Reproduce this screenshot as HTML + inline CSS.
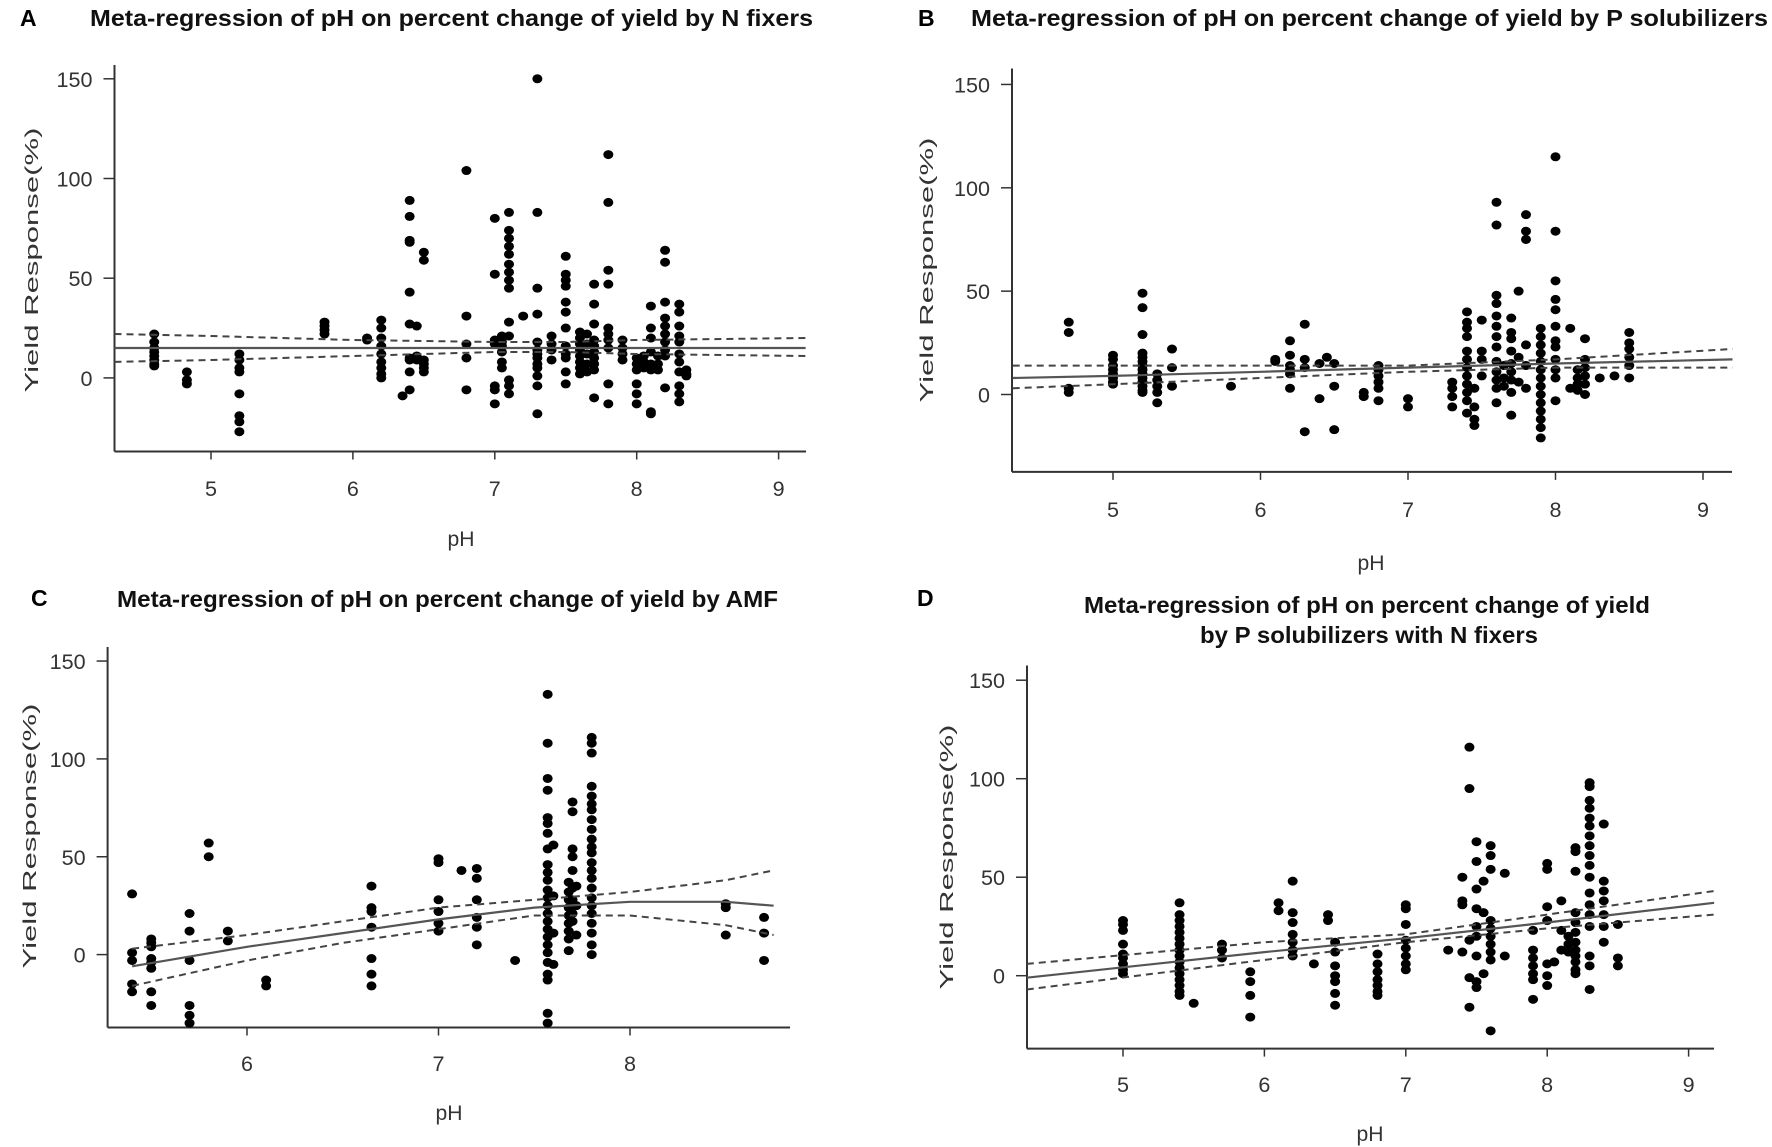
<!DOCTYPE html>
<html><head><meta charset="utf-8">
<style>
html,body{margin:0;padding:0;background:#fff;overflow:hidden;}
svg{display:block;}
text{font-family:"Liberation Sans",Arial,sans-serif;}
</style></head>
<body>
<svg id="fig" width="1772" height="1147" viewBox="0 0 1772 1147" xmlns="http://www.w3.org/2000/svg"></svg>
<script>
// ---------- DATA ----------
// Panel A: N fixers
const aPH = [4.6,4.83,5.2,5.8,6.1,6.2,6.35,6.4,6.45,6.5,6.8,7.0,7.05,7.1,7.2,7.3,7.4,7.5,7.6,7.65,7.7,7.8,7.9,8.0,8.05,8.1,8.15,8.2,8.3,8.35];
const aYield = [[22,18,15,13,11,9,7,6],[3,-1,-3],[12,9,5,3,-8,-19,-22,-27],[28,26,24,22],[20,19],[29,25,20,16,12,8,5,2,0],[-9],[89,81,69,68,43,27,10,9,3,-6],[26,11,9],[63,59,9,7,5,3],[104,31,17,10,-6],[80,52,19,17,-4,-6,-13],[21,18,16,13,8,5],[83,74,70,66,62,57,53,49,45,28,21,-1,-4,-8],[31],[150,83,45,32,18,14,12,10,7,5,1,-4,-18],[21,17,14,9],[61,52,49,46,38,33,25,16,12,10,3,-3],[23,20,17,14,11,8,5,2],[22,17,12,7,3],[47,37,27,19,16,13,10,7,4,-10],[112,88,54,47,25,22,19,15,-3,-13],[19,15,12,9],[10,7,4,-3,-8,-13],[11,8,5],[36,25,20,13,7,4,-17,-18],[11,7,4],[64,58,38,30,26,22,18,14,11,-5],[37,33,26,21,18,12,8,3,-4,-8,-12],[4,2,1]];
const aFitPH = [4.32,5,6,7,7.5,8,9.19];
const aFit = [15,15,15,15,15,15,15];
const aUpper = [22,21,19,18,18,19,20];
const aLower = [8,9,11,13,13,12,11];

// Panel B: P solubilizers
const bPH = [4.7,5.0,5.2,5.3,5.4,5.8,6.1,6.2,6.3,6.4,6.45,6.5,6.7,6.8,7.0,7.3,7.4,7.45,7.5,7.6,7.65,7.7,7.75,7.8,7.9,8.0,8.1,8.15,8.2,8.3,8.4,8.5];
const bYield = [[35,30,3,1],[19,17,14,12,10,8,6,5],[49,42,29,20,18,16,14,12,10,8,6,4,2,1],[10,7,4,1,-4],[22,13,4],[4],[17,16],[26,19,14,12,10,3],[34,17,13,-18],[15,-2],[18],[15,4,-17],[1,-1],[14,12,9,6,3,-3],[-2,-6],[6,3,-1,-6],[40,35,32,28,21,17,13,9,5,1,-3,-9],[3,-6,-12,-15],[36,21,17,9],[93,82,48,44,38,33,28,23,16,11,7,3,-4],[14,8,4],[37,30,27,21,15,11,7,1,-10],[50,18,6],[87,79,75,24,14,3],[32,28,24,20,16,12,8,4,0,-4,-8,-12,-16,-21],[115,79,55,46,41,33,26,23,17,12,8,-3],[32,3],[12,8,5,2],[27,17,13,9,5,0],[8],[9],[30,25,22,18,14,8]];
const bFitPH = [4.32,5,6,7,8,9.2];
const bFit = [8,9,11,13,15,17];
const bUpper = [14,14,14,14,17,22];
const bLower = [3,5,8,11,13,13];

// Panel C: AMF
const cPH = [5.4,5.5,5.7,5.8,5.9,6.1,6.65,7.0,7.12,7.2,7.4,7.57,7.6,7.68,7.7,7.72,7.8,8.5,8.7];
const cYield = [[31,1,-3,-15,-19],[8,6,4,-2,-4,-7,-19,-26],[21,12,-3,-26,-31,-35],[57,50],[12,7],[-13,-16],[35,24,22,14,-2,-10,-16],[49,47,28,22,16,12],[43],[44,39,28,19,14,5],[-3],[133,108,90,84,70,67,62,54,46,42,38,33,29,25,21,17,13,9,5,1,-4,-10,-13,-30,-35],[56,30,11,-5],[37,32,28,24,20,16,12,8,2],[78,73,54,50,43,34,28,21,17],[35,25,10],[111,108,103,86,81,77,74,69,64,59,55,52,47,43,39,34,29,25,21,16,11,5,0],[26,24,10],[19,11,-3]];
const cFitPH = [5.4,6,6.5,7,7.5,8,8.5,8.75];
const cFit = [-6,4,11,18,24,27,27,25];
const cUpper = [3,10,17,24,28,32,38,43];
const cLower = [-16,-3,6,13,20,20,15,10];

// Panel D: P solubilizers with N fixers
const dPH = [5.0,5.4,5.5,5.7,5.9,6.1,6.2,6.35,6.45,6.5,6.8,7.0,7.3,7.4,7.45,7.5,7.55,7.6,7.7,7.9,8.0,8.05,8.1,8.15,8.2,8.3,8.4,8.5];
const dYield = [[28,26,23,16,11,9,6,3,1],[37,31,28,25,22,19,16,13,10,7,4,1,-2,-5,-8,-10],[-14],[16,13,9],[2,-3,-10,-21],[37,33],[48,32,27,21,17,13,10],[6],[31,28],[17,12,5,0,-3,-9,-15],[11,6,2,-2,-5,-8,-10],[36,34,26,18,14,10,6,3],[13],[50,38,36,12],[116,95,18,-1,-16],[68,58,44,34,25,20,10,-3,-6],[48,32,1],[66,61,54,28,24,20,16,12,8,-28],[52,10],[23,13,9,5,1,-2,-12],[57,54,35,28,6,0,-5],[7],[38,23,13],[20,16,12],[65,63,53,32,27,22,17,13,10,7,3,1],[98,96,89,85,80,76,71,66,61,56,50,42,36,31,25,10,5,-7],[77,48,43,38,31,25,17],[26,9,5]];
const dFitPH = [4.32,6,7,8,9.18];
const dFit = [-1,12,19,27,37];
const dUpper = [6,17,21,31,43];
const dLower = [-7,8,17,24,31];

const yTicks = [0,50,100,150];
const xTicksABD = [5,6,7,8,9];
const xTicksC = [6,7,8];

// ---------- LAYOUT ----------
const NS = "http://www.w3.org/2000/svg";
const svg = document.getElementById('fig');
function mk(tag, attrs, parent){
  const e = document.createElementNS(NS, tag);
  for (const k in attrs) e.setAttribute(k, attrs[k]);
  (parent||svg).appendChild(e);
  return e;
}
function txt(str, attrs, parent){
  const t = mk('text', attrs, parent);
  t.textContent = str;
  return t;
}

const panels = [
  {id:'a', letter:'A', ph:aPH, ys:aYield, fx:aFitPH, fit:aFit, up:aUpper, lo:aLower, xt:xTicksABD,
   ax:114.5, axR:806, ayTop:65, ayBot:451.5, x0v:5, x0p:211, xu:141.9, y0p:377.9, yu:1.994,
   xlabY:496, phY:546, phX:461, ytX:31, ytY:260,
   letterX:20, letterY:25, titles:[{s:'Meta-regression of pH on percent change of yield  by N fixers', x:90, y:25, w:723}]},
  {id:'b', letter:'B', ph:bPH, ys:bYield, fx:bFitPH, fit:bFit, up:bUpper, lo:bLower, xt:xTicksABD,
   ax:1012, axR:1732, ayTop:68.5, ayBot:471.9, x0v:5, x0p:1113, xu:147.5, y0p:394.5, yu:2.067,
   xlabY:517, phY:570, phX:1371, ytX:926, ytY:270,
   letterX:918, letterY:25, titles:[{s:'Meta-regression of pH on percent change of yield by P solubilizers', x:971, y:25, w:797}]},
  {id:'c', letter:'C', ph:cPH, ys:cYield, fx:cFitPH, fit:cFit, up:cUpper, lo:cLower, xt:xTicksC,
   ax:107.6, axR:790, ayTop:647, ayBot:1027.5, x0v:6, x0p:247, xu:191.5, y0p:954.6, yu:1.957,
   xlabY:1071, phY:1120, phX:449, ytX:29, ytY:836,
   letterX:31, letterY:605, titles:[{s:'Meta-regression of pH on percent change of yield by AMF', x:117, y:606, w:661}]},
  {id:'d', letter:'D', ph:dPH, ys:dYield, fx:dFitPH, fit:dFit, up:dUpper, lo:dLower, xt:xTicksABD,
   ax:1027, axR:1714, ayTop:665.5, ayBot:1048.6, x0v:5, x0p:1123, xu:141.4, y0p:975.7, yu:1.970,
   xlabY:1092, phY:1141, phX:1370, ytX:946, ytY:857,
   letterX:917, letterY:605, titles:[{s:'Meta-regression of pH on percent change of yield', x:1084, y:612, w:566},{s:'by P solubilizers with N fixers', x:1200, y:642, w:338}]}
];

panels.forEach(p => {
  const g = mk('g', {});
  
  
  const X = v => p.x0p + (v - p.x0v) * p.xu;
  const Y = v => p.y0p - v * p.yu;

  const L = txt(p.letter, {x:p.letterX, y:p.letterY+1, 'font-size':23, 'font-weight':'bold', fill:'#000'}, g);
  
  
  p.titles.forEach((t, i) => {
    const T = txt(t.s, {x:t.x, y:t.y+1, 'font-size':23, 'font-weight':'bold', fill:'#111', textLength:t.w, lengthAdjust:'spacingAndGlyphs'}, g);
    
    
  });

  const ya = mk('line', {x1:p.ax, y1:p.ayTop, x2:p.ax, y2:p.ayBot, stroke:'#333', 'stroke-width':2}, g);
  
  
  const xa = mk('line', {x1:p.ax, y1:p.ayBot, x2:p.axR, y2:p.ayBot, stroke:'#333', 'stroke-width':2}, g);
  
  

  yTicks.forEach(v => {
    const y = Y(v);
    const tk = mk('line', {x1:p.ax-11, y1:y, x2:p.ax, y2:y, stroke:'#333', 'stroke-width':1.5}, g);
    
    
    const s = String(v);
    const lb = txt(s, {x:p.ax-22, y:y+8, 'font-size':21, fill:'#333', 'text-anchor':'end', textLength:s.length*12, lengthAdjust:'spacingAndGlyphs'}, g);
    
    
  });
  p.xt.forEach(v => {
    const x = X(v);
    const tk = mk('line', {x1:x, y1:p.ayBot, x2:x, y2:p.ayBot+8, stroke:'#333', 'stroke-width':1.5}, g);
    
    
    const lb = txt(String(v), {x:x, y:p.xlabY, 'font-size':21, fill:'#333', 'text-anchor':'middle', textLength:12, lengthAdjust:'spacingAndGlyphs'}, g);
    
    
  });
  const xt = txt('pH', {x:p.phX, y:p.phY, 'font-size':21, fill:'#333', 'text-anchor':'middle', textLength:27, lengthAdjust:'spacingAndGlyphs'}, g);
  
  
  const yt = txt('Yield Response(%)', {x:0, y:0, 'font-size':18, fill:'#333', 'text-anchor':'middle', textLength:265, lengthAdjust:'spacingAndGlyphs', transform:'translate(' + (p.ytX+7) + ',' + p.ytY + ') rotate(-90)'}, g);
  
  

  p.ph.forEach((xv, i) => {
    p.ys[i].forEach(yv => {
      const c = mk('ellipse', {cx:X(xv), cy:Y(yv), rx:5, ry:4.5, fill:'#000'}, g);
      
      
    });
  });

  const path = arr => p.fx.map((xv, i) => (i ? 'L' : 'M') + X(xv).toFixed(1) + ',' + Y(arr[i]).toFixed(1)).join(' ');
  const up = mk('path', {d:path(p.up), fill:'none', stroke:'#444', 'stroke-width':2, 'stroke-dasharray':'7,5'}, g);
  
  
  const lo = mk('path', {d:path(p.lo), fill:'none', stroke:'#444', 'stroke-width':2, 'stroke-dasharray':'7,5'}, g);
  
  
  const fl = mk('path', {d:path(p.fit), fill:'none', stroke:'#555', 'stroke-width':2.2}, g);
  
  
});
</script>
</body></html>
